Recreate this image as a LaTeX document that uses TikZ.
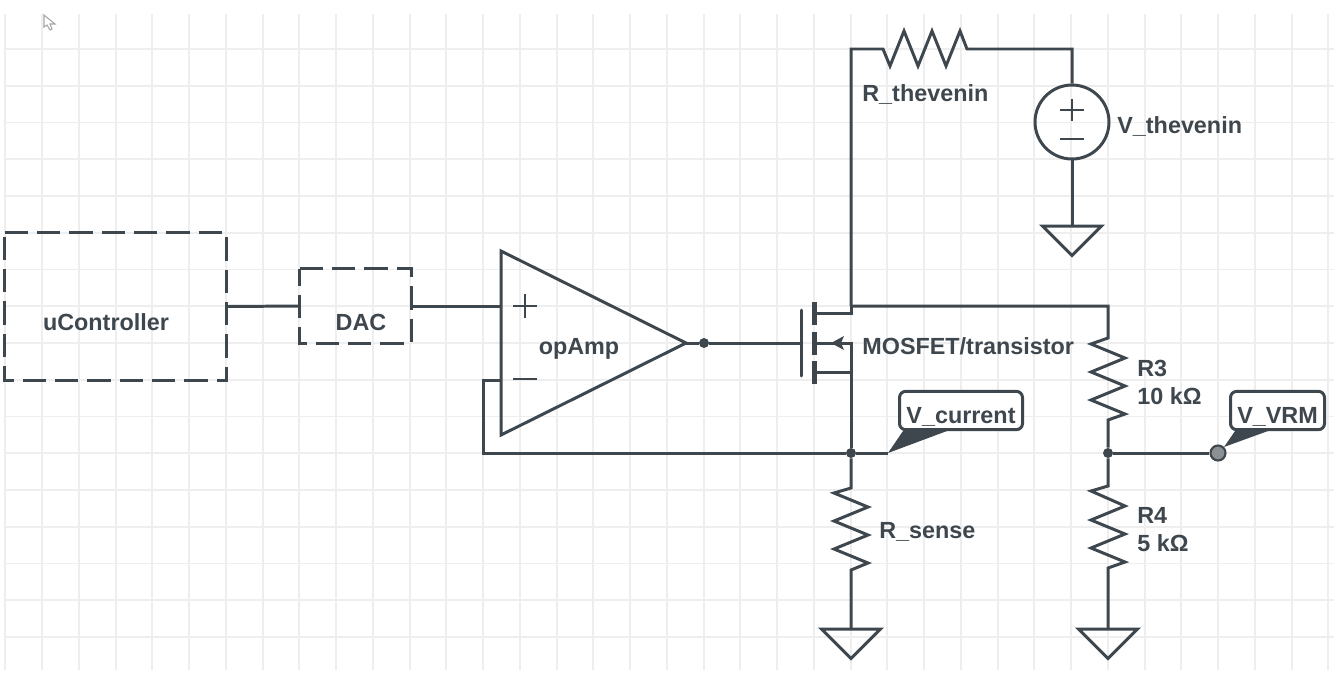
\documentclass[tikz,border=0pt]{standalone}
\usepackage{fontspec}
\setmainfont{Liberation Sans}
\definecolor{ink}{HTML}{3F474E}
\definecolor{gridline}{HTML}{EEEEEE}
\definecolor{probe}{HTML}{8C9092}
\tikzset{
  wire/.style={draw=ink,line width=1.7pt,line join=miter},
  dashbox/.style={draw=ink,line width=1.7pt,dash pattern=on 13.3pt off 5.1pt},
  blockbox/.style={inner sep=0pt},
  lbl/.style={text=ink,font=\fontsize{13.3}{15}\selectfont\bfseries,inner sep=0pt},
  tag/.style={lbl,draw=ink,fill=white,line width=1.7pt,rounded corners=3.5pt,text height=18pt,text depth=3.8pt,inner sep=0pt},
  jdot/.style={circle,fill=ink,inner sep=0pt,minimum size=0.2cm},
}
\begin{document}
\begin{tikzpicture}[x=0.02cm,y=-0.02cm]
\useasboundingbox (0,0) rectangle (1334,680);
\fill[white] (0,0) rectangle (1334,680);
% background grid
\foreach \k in {0,...,36} \draw[gridline,line width=1.1pt] (5.4+36.75*\k,14)--(5.4+36.75*\k,670);
\foreach \k in {0,...,16} \draw[gridline,line width=1.1pt] (5,49+36.75*\k)--(1334,49+36.75*\k);
% mouse pointer
\draw[black!35,line width=0.6pt,fill=white] (44,15)--(44,27)--(47,25)--(50,30)--(52,29)--(50,24)--(55,24)--cycle;

% blocks on the left
\node[blockbox,minimum width=4.42cm,minimum height=2.94cm] (uctrl) at (115.5,306.5) {};
\node[blockbox,minimum width=2.22cm,minimum height=1.48cm] (dac) at (355.5,306) {};
\foreach \b in {uctrl,dac}
  \draw[dashbox] (\b.north west)--(\b.north east)--(\b.south east)--(\b.south west)--cycle;
\node[lbl,anchor=base] (uctrltxt) at (106,330) {uController};
\node[lbl,anchor=base] (dactxt) at (361,330) {DAC};

% amplifier
\coordinate (oaTop) at (501,251);
\coordinate (oaBot) at (501,435);
\coordinate (oaOut) at (686,343);
\coordinate (oaPlus) at (501,306);
\coordinate (oaMinus) at (501,380);
\draw[wire] (oaTop)--(oaOut)--(oaBot)--cycle;
\node[lbl,anchor=base] (oatxt) at (579,354) {opAmp};
\draw[wire,line width=1.4pt] (513,306)--(537,306) (525,294)--(525,318) (513,379)--(537,379);
\draw[wire] (uctrl.east)--(dac.west);
\draw[wire] (dac.east)--(oaPlus);

% transistor
\coordinate (gate) at (801,343);
\coordinate (drain) at (851,313);
\coordinate (bulk) at (851,343);
\coordinate (source) at (851,372);
\coordinate (rail) at (851,306);
\draw[wire,line cap=round] (801,310)--(801,376);
\draw[ink,line width=3pt] (814.5,302)--(814.5,325) (814.5,332)--(814.5,355) (814.5,361)--(814.5,384);
\draw[wire] (814.5,313)--(drain)--(rail);
\draw[wire] (814.5,372)--(source);
\draw[wire] (814.5,343)--(bulk)--(source);
\fill[ink] (831,343)--(844,336)--(841,343)--(844,350)--cycle;
\node[lbl,anchor=base west] (mostxt) at (862,354) {MOSFET/transistor};
\node[jdot] (outdot) at (704,343) {};
\draw[wire] (oaOut)--(outdot)--(gate);

% thevenin branch
\coordinate (rthA) at (883,49);
\coordinate (rthB) at (967,49);
\coordinate (rthCorner) at (851,49);
\coordinate (vthCorner) at (1072,49);
\node[circle,draw=ink,line width=1.7pt,minimum size=1.48cm,inner sep=0pt] (vth) at (1072,122) {};
\coordinate (gndC) at (1072,226);
\draw[wire] (rail)--(rthCorner)--(rthA)--++(7,17)--++(14,-35)--++(14,35)--++(14,-35)--++(14,35)--++(14,-35)--(rthB)--(vthCorner)--(vth.north);
\draw[wire,line width=1.4pt] (1060,110)--(1084,110) (1072,99)--(1072,121) (1060,139)--(1084,139);
\draw[wire] (vth.south)--(gndC);
\node[lbl,anchor=base west] (rthtxt) at (862,101) {R\_thevenin};
\node[lbl,anchor=base west] (vthtxt) at (1117,133) {V\_thevenin};

% feedback and sense
\node[jdot] (sensedot) at (851,453) {};
\coordinate (fbCorner) at (483,453);
\coordinate (curTip) at (888,453);
\coordinate (rsA) at (851,488);
\coordinate (rsB) at (851,570);
\coordinate (gndA) at (851,629);
\draw[wire] (oaMinus)-|(fbCorner)--(sensedot);
\draw[wire] (source)--(sensedot)--(curTip);
\draw[wire] (sensedot)--(rsA)--++(-17,5)--++(34,14)--++(-34,14)--++(34,14)--++(-34,14)--++(34,14)--(rsB)--(gndA);
\node[lbl,anchor=base west] (rstxt) at (879,538) {R\_sense};
\node[tag,minimum width=2.52cm-1.7pt,anchor=base] (curtag) at (961,423) {V\_current};

% divider
\coordinate (r3A) at (1108,338);
\coordinate (r3B) at (1108,420);
\coordinate (railEnd) at (1108,306);
\node[jdot] (divdot) at (1108,453) {};
\coordinate (r4A) at (1108,486);
\coordinate (r4B) at (1108,568);
\coordinate (gndB) at (1108,629);
\draw[wire] (rail)--(railEnd)--(r3A)--++(-17,6)--++(34,14)--++(-34,14)--++(34,14)--++(-34,14)--++(34,14)--(r3B)--(divdot);
\draw[wire] (divdot)--(r4A)--++(-17,5)--++(34,15)--++(-34,14)--++(34,14)--++(-34,14)--++(34,14)--(r4B)--(gndB);
\node[lbl,anchor=base west] (r3txt) at (1137,376) {R3};
\node[lbl,anchor=base west] (r3val) at (1137,404) {10 kΩ};
\node[lbl,anchor=base west] (r4txt) at (1137,523) {R4};
\node[lbl,anchor=base west] (r4val) at (1137,551) {5 kΩ};
\node[circle,draw=ink,fill=probe,line width=1.2pt,minimum size=0.3cm,inner sep=0pt] (vrm) at (1218,453) {};
\draw[wire] (divdot)--(vrm);
\node[tag,minimum width=1.94cm-1.7pt,anchor=base] (vrmtag) at (1277.5,423) {V\_VRM};

% callout tails
\fill[ink] (curTip)--(903,431)--(947,431)--cycle;
\fill[ink] (vrm.north east)--(1235,431)--(1268,431)--cycle;

% grounds
\foreach \g in {gndA,gndB,gndC}
  \draw[wire] (\g) ++(-29.5,0)--++(59,0)--++(-29.5,29.5)--cycle;
\end{tikzpicture}
\end{document}
